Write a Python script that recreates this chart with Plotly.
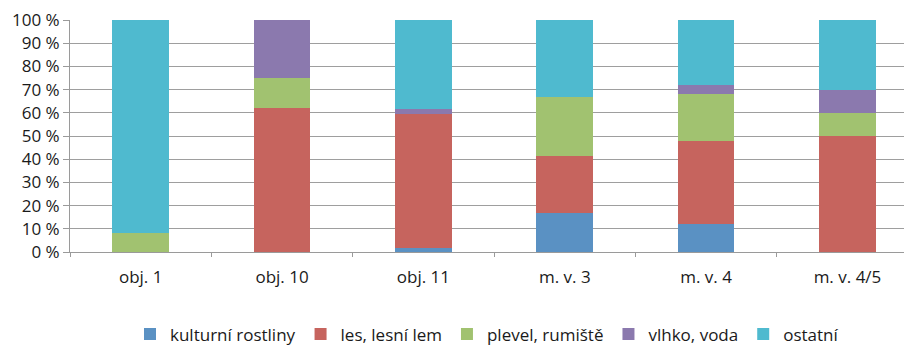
import plotly.graph_objects as go

# Categories (sites) and the share of each plant group, in percent
categories = ["obj. 1", "obj. 10", "obj. 11", "m. v. 3", "m. v. 4", "m. v. 4/5"]

series_names = ["kulturní rostliny", "les, lesní lem", "plevel, rumiště", "vlhko, voda", "ostatní"]

kulturni_rostliny = [0, 0, 1.6, 16.7, 12.0, 0]
les_lesni_lem = [0, 62.2, 58.0, 24.8, 35.8, 50.0]
plevel_rumiste = [8.3, 12.8, 0, 25.2, 20.2, 10.0]
vlhko_voda = [0, 25.0, 1.9, 0, 3.8, 10.0]
ostatni = [91.7, 0, 38.5, 33.3, 28.2, 30.0]

y_ticks = [0, 10, 20, 30, 40, 50, 60, 70, 80, 90, 100]
y_tick_labels = [f"{v} %" for v in y_ticks]

colors = ["#5A91C3", "#C6645E", "#A1C270", "#8B79AE", "#4FBACF"]

series_values = [kulturni_rostliny, les_lesni_lem, plevel_rumiste, vlhko_voda, ostatni]

FONT = "Open Sans, Noto Sans, sans-serif"
FSIZE = 17

fig = go.Figure()
for name, vals, col in zip(series_names, series_values, colors):
    fig.add_trace(go.Bar(
        name=name,
        x=categories,
        y=vals,
        marker=dict(color=col, line=dict(width=0)),
    ))

fig.update_layout(
    barmode="stack",
    bargap=0.6,
    width=904,
    height=349,
    margin=dict(l=70, r=0, t=20, b=97, autoexpand=False),
    paper_bgcolor="white",
    plot_bgcolor="white",
    font=dict(family=FONT, size=FSIZE, color="#1a1a1a"),
    showlegend=True,
    legend=dict(
        orientation="h",
        x=0.5, xanchor="center",
        y=-0.355, yanchor="middle",
        font=dict(family=FONT, size=FSIZE, color="#1a1a1a"),
        itemwidth=30,
        traceorder="normal",
    ),
    xaxis=dict(
        type="category",
        range=[-0.5, 5.4],
        automargin=False,
        showgrid=False,
        showline=True,
        linecolor="#9a9a9a",
        linewidth=1,
        ticks="outside",
        tickson="boundaries",
        ticklen=4,
        tickcolor="#9a9a9a",
        ticklabelstandoff=10,
        tickfont=dict(family=FONT, size=FSIZE, color="#1a1a1a"),
    ),
    yaxis=dict(
        range=[0, 100],
        automargin=False,
        tickvals=y_ticks,
        ticktext=y_tick_labels,
        showgrid=True,
        gridcolor="#9e9e9e",
        gridwidth=1,
        showline=True,
        linecolor="#9a9a9a",
        linewidth=1,
        ticks="outside",
        ticklen=6,
        tickcolor="#9a9a9a",
        zeroline=False,
        tickfont=dict(family=FONT, size=FSIZE, color="#1a1a1a"),
    ),
)

fig.write_html("out.html")
